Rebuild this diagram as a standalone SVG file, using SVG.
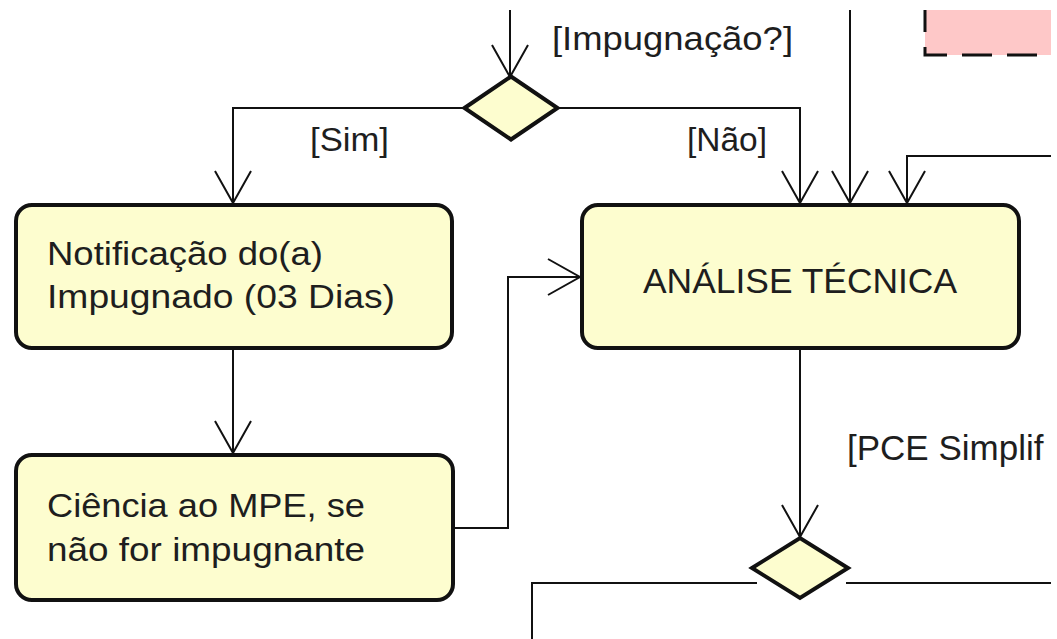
<svg xmlns="http://www.w3.org/2000/svg" width="1057" height="639" viewBox="0 0 1057 639">
  <style>
    .box { fill: #fdfdcf; stroke: #111; stroke-width: 4; }
    .dia { fill: #fdfdcf; stroke: #111; stroke-width: 4; stroke-linejoin: miter; }
    .conn { fill: none; stroke: #111; stroke-width: 2; }
    .t { font-family: "Liberation Sans", Arial, sans-serif; font-size: 34px; fill: #1e1e1e; }
    .big { font-size: 35px; }
  </style>
  <defs>
    <marker id="arr" viewBox="-34 -20 36 40" refX="0" refY="0" markerWidth="36" markerHeight="40" markerUnits="userSpaceOnUse" orient="auto">
      <path d="M-32,-18 L0,0 L-32,18" fill="none" stroke="#111" stroke-width="2"/>
    </marker>
    <clipPath id="clip">
      <rect x="0" y="0" width="1051" height="639"/>
    </clipPath>
  </defs>
  <rect width="1057" height="639" fill="#ffffff"/>
  <g clip-path="url(#clip)">
    <g id="note">
      <rect x="925" y="10" width="126" height="45" fill="#fec8c8"/>
      <path d="M925,10 V55 H1051" fill="none" stroke="#111" stroke-width="3" stroke-dasharray="30 15" stroke-dashoffset="8"/>
    </g>
    <g id="connectors">
      <path class="conn" d="M510,10 V77" marker-end="url(#arr)"/>
      <path class="conn" d="M465,108 H233 V203" marker-end="url(#arr)"/>
      <path class="conn" d="M557,108 H800 V203" marker-end="url(#arr)"/>
      <path class="conn" d="M850,10 V203" marker-end="url(#arr)"/>
      <path class="conn" d="M1051,156 H907 V203" marker-end="url(#arr)"/>
      <path class="conn" d="M233,348 V453" marker-end="url(#arr)"/>
      <path class="conn" d="M453,528 H508 V277 H580" marker-end="url(#arr)"/>
      <path class="conn" d="M800,348 V537" marker-end="url(#arr)"/>
      <path class="conn" d="M757,583 H532 V639"/>
      <path class="conn" d="M846,583 H1051"/>
      <text class="t" x="552" y="50" textLength="241" lengthAdjust="spacingAndGlyphs">[Impugnação?]</text>
      <text class="t" x="310" y="151" textLength="79" lengthAdjust="spacingAndGlyphs">[Sim]</text>
      <text class="t" x="687" y="151" textLength="80" lengthAdjust="spacingAndGlyphs">[Não]</text>
      <text class="t big" x="847" y="460">[PCE Simplif</text>
    </g>
    <g id="decision1">
      <polygon class="dia" points="464.5,108 511,76.5 557.5,108 511,139.5"/>
    </g>
    <g id="decision2">
      <polygon class="dia" points="752,568 800,538 848,568 800,598"/>
    </g>
    <g id="notificacao">
      <rect class="box" x="16" y="205" width="436" height="143" rx="16"/>
      <text class="t" x="47" y="265" textLength="276" lengthAdjust="spacingAndGlyphs">Notificação do(a)</text>
      <text class="t" x="47" y="308" textLength="348" lengthAdjust="spacingAndGlyphs">Impugnado (03 Dias)</text>
    </g>
    <g id="ciencia">
      <rect class="box" x="16" y="455" width="437" height="145" rx="16"/>
      <text class="t" x="47" y="517" textLength="318" lengthAdjust="spacingAndGlyphs">Ciência ao MPE, se</text>
      <text class="t" x="47" y="561" textLength="318" lengthAdjust="spacingAndGlyphs">não for impugnante</text>
    </g>
    <g id="analise">
      <rect class="box" x="582" y="205" width="437" height="143" rx="16"/>
      <text class="t big" x="643" y="293" textLength="314" lengthAdjust="spacingAndGlyphs">ANÁLISE TÉCNICA</text>
    </g>
  </g>
</svg>
